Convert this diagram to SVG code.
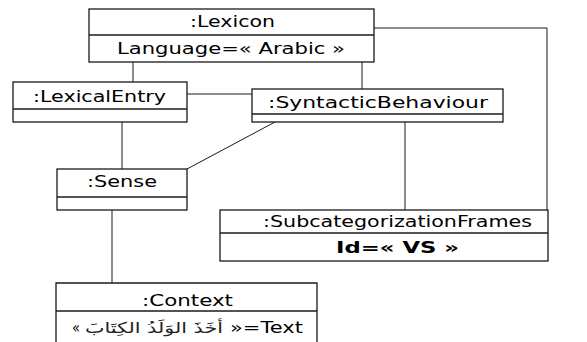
<svg xmlns="http://www.w3.org/2000/svg" width="587" height="342" viewBox="0 0 587 342">
  <style>
    .box { fill: #ffffff; stroke: #1a1a1a; stroke-width: 1.3; }
    .sep { stroke: #1a1a1a; stroke-width: 1.3; fill: none; }
    .link { stroke: #1a1a1a; stroke-width: 1; fill: none; }
    text { font-family: "DejaVu Sans", Verdana, sans-serif; font-size: 15px; fill: #000; }
    .bold { font-weight: bold; }
    .ar { font-size: 15px; fill: #222; }
  </style>
  <rect width="587" height="342" fill="#ffffff"/>

  <!-- associations between the objects -->
  <g id="connectors">
    <line class="link" x1="133" y1="62" x2="133" y2="82"/>
    <line class="link" x1="362" y1="62" x2="362" y2="89"/>
    <polyline class="link" points="374,28 547,28 547,210"/>
    <line class="link" x1="187" y1="94" x2="252" y2="94"/>
    <line class="link" x1="122" y1="122" x2="122" y2="169"/>
    <line class="link" x1="275" y1="122" x2="187" y2="169"/>
    <line class="link" x1="405" y1="122" x2="405" y2="210"/>
    <line class="link" x1="112" y1="210" x2="112" y2="283"/>
  </g>

  <g id="lexicon">
    <rect class="box" x="89" y="9" width="285" height="53"/>
    <line class="sep" x1="89" y1="35" x2="374" y2="35"/>
    <text x="190" y="27" textLength="85" lengthAdjust="spacingAndGlyphs">:Lexicon</text>
    <text x="117" y="54" textLength="228" lengthAdjust="spacingAndGlyphs">Language=« Arabic »</text>
  </g>

  <g id="lexical-entry">
    <rect class="box" x="13" y="82" width="174" height="40"/>
    <line class="sep" x1="13" y1="109" x2="187" y2="109"/>
    <text x="33" y="102" textLength="133" lengthAdjust="spacingAndGlyphs">:LexicalEntry</text>
  </g>

  <g id="syntactic-behaviour">
    <rect class="box" x="252" y="89" width="251" height="33"/>
    <line class="sep" x1="252" y1="114" x2="503" y2="114"/>
    <text x="268" y="108" textLength="220" lengthAdjust="spacingAndGlyphs">:SyntacticBehaviour</text>
  </g>

  <g id="sense">
    <rect class="box" x="57" y="169" width="130" height="41"/>
    <line class="sep" x1="57" y1="197" x2="187" y2="197"/>
    <text x="87" y="187" textLength="70" lengthAdjust="spacingAndGlyphs">:Sense</text>
  </g>

  <g id="subcategorization-frames">
    <rect class="box" x="220" y="210" width="328" height="51"/>
    <line class="sep" x1="220" y1="233" x2="548" y2="233"/>
    <text x="263" y="227" textLength="269" lengthAdjust="spacingAndGlyphs">:SubcategorizationFrames</text>
    <text class="bold" x="336" y="253" textLength="123" lengthAdjust="spacingAndGlyphs">Id=« VS »</text>
  </g>

  <g id="context">
    <polyline class="sep" points="56,345 56,283 317,283 317,345"/>
    <line class="sep" x1="56" y1="311" x2="317" y2="311"/>
    <text x="142" y="306" textLength="91" lengthAdjust="spacingAndGlyphs">:Context</text>
    <!-- attribute value: quote marks, Arabic sentence (right to left), then the name -->
    <text x="72" y="333" textLength="8" lengthAdjust="spacingAndGlyphs">«</text>
    <text class="ar" text-anchor="middle" direction="rtl" transform="translate(154 333) scale(1.38 1)">أخَذَ الوَلَدُ الكِتَابَ</text>
    <text x="230" y="333" textLength="73" lengthAdjust="spacingAndGlyphs">»=Text</text>
  </g>
</svg>
